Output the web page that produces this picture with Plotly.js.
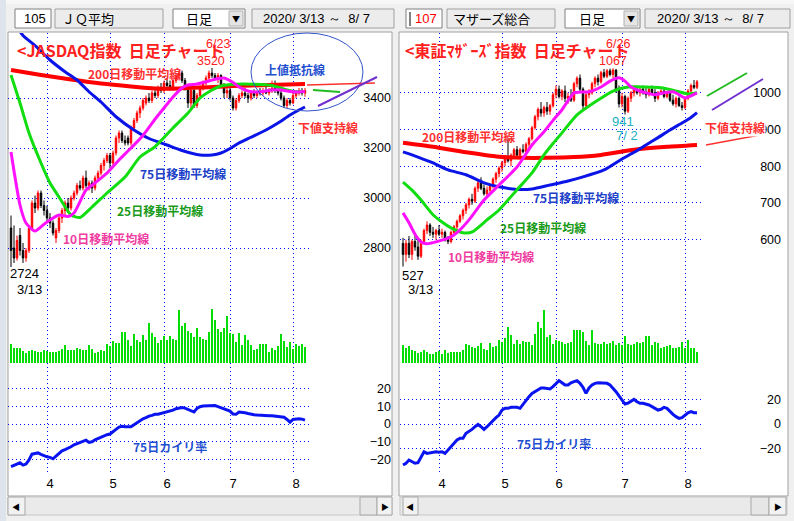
<!DOCTYPE html>
<html>
<head>
<meta charset="utf-8">
<script src="https://cdn.plot.ly/plotly-3.0.1.min.js"></script>
<style>
html, body { margin: 0; padding: 0; background: #f0f0f0; }
#chart { width: 794px; height: 521px; }
</style>
</head>
<body>
<div id="chart"></div>
<script>
// trading days 2020/3/13 - 8/7
var monthDays = [
  [3, [13,16,17,18,19,23,24,25,26,27,30,31]],
  [4, [1,2,3,6,7,8,9,10,13,14,15,16,17,20,21,22,23,24,27,28,30]],
  [5, [1,7,8,11,12,13,14,15,18,19,20,21,22,25,26,27,28,29]],
  [6, [1,2,3,4,5,8,9,10,11,12,15,16,17,18,19,22,23,24,25,26,29,30]],
  [7, [1,2,3,6,7,8,9,10,13,14,15,16,17,20,21,22,27,28,29,30,31]],
  [8, [3,4,5,6,7]]
];
var days = [];
monthDays.forEach(function (m) {
  m[1].forEach(function (d) { days.push(m[0] + '/' + d); });
});
var monthTicks = ['4/1', '5/1', '6/1', '7/1', '8/3'];
var monthText = ['4', '5', '6', '7', '8'];

// JASDAQ index
var jqOpen = [2880,2800,2760,2850,2790,2760,2790,2880,2980,2960, 3020,2970,2950,2920,2900,2840,2870,2920,2950,2980,
  2960,3000,3020,3050,3040,3080,3050,3060,3040,3080, 3100,3130,3150,3170,3140,3180,3240,3260,3230,3240,
  3220,3280,3310,3340,3360,3380,3400,3390,3420,3410, 3440,3430,3460,3450,3440,3470,3490,3500,3470,3440,
  3380,3430,3370,3410,3440,3460,3480,3500,3490,3480, 3490,3450,3420,3430,3400,3360,3390,3410,3420,3410,
  3400,3420,3410,3425,3420,3430,3420,3430,3440,3430, 3420,3400,3370,3390,3380,3410,3420,3430,3420];
var jqHigh = [2930,2890,2850,2880,2820,2800,2890,2990,3010,3030, 3030,2990,2970,2940,2910,2880,2930,2960,2990,3000,
  3010,3030,3060,3070,3090,3110,3070,3070,3090,3110, 3140,3160,3180,3180,3190,3250,3270,3270,3250,3250,
  3290,3320,3350,3370,3400,3410,3420,3430,3440,3450, 3460,3470,3480,3470,3480,3500,3510,3510,3480,3450,
  3440,3440,3420,3450,3470,3490,3510,3520,3500,3500, 3495,3460,3440,3440,3410,3400,3420,3430,3440,3420,
  3430,3435,3430,3440,3440,3445,3440,3470,3470,3450, 3430,3410,3400,3400,3420,3430,3440,3440,3440];
var jqLow = [2724,2740,2750,2770,2740,2745,2780,2870,2940,2950, 2960,2930,2900,2880,2850,2820,2860,2900,2930,2940,
  2950,2990,3010,3030,3030,3040,3030,3020,3030,3070, 3090,3110,3140,3120,3130,3170,3220,3220,3210,3210,
  3210,3270,3300,3320,3350,3370,3380,3380,3400,3400, 3420,3420,3440,3430,3430,3460,3470,3460,3430,3360,
  3350,3360,3360,3400,3430,3450,3470,3480,3470,3460, 3440,3400,3400,3390,3350,3350,3380,3400,3400,3380,
  3390,3400,3400,3410,3410,3415,3410,3420,3420,3410, 3390,3360,3360,3370,3375,3400,3410,3410,3405];
var jqClose = [2790,2760,2830,2790,2760,2790,2880,2980,2960,3020, 2970,2950,2920,2900,2860,2870,2920,2950,2980,2960,
  3000,3020,3050,3040,3080,3050,3060,3040,3080,3100, 3130,3150,3170,3140,3180,3240,3260,3230,3220,3220,
  3280,3310,3340,3360,3390,3400,3390,3420,3410,3440, 3430,3460,3450,3440,3470,3490,3500,3470,3440,3380,
  3430,3370,3410,3440,3460,3480,3500,3490,3480,3490, 3450,3420,3430,3400,3360,3390,3410,3420,3410,3400,
  3420,3410,3425,3420,3430,3420,3430,3440,3430,3420, 3400,3370,3390,3380,3410,3420,3430,3420,3430];
var jqVol = [19,15,15,15,12,10,12,13,12,11, 11,13,12,11,11,11,12,14,18,13, 13,13,15,14,13,13,18,14,10,11,
  13,12,19,17,22,20,20,31,31,23, 17,29,23,21,28,23,40,30,26,20, 23,27,23,27,24,23,53,37,40,32,
  30,26,35,26,24,23,31,54,43,34, 31,35,47,30,29,21,30,18,28,23, 18,13,14,19,19,19,11,15,13,17,
  29,22,16,21,14,19,17,19,16];
var jqDev = [-24.1,-23.3,-22.6,-21.9,-23.2,-22.6,-20.3,-17.0,-16.6,-16.3, -17.1,-17.9,-18.5,-18.8,-19.6,-18.1,-16.6,-15.1,-14.4,-13.7,
  -12.8,-11.7,-11.0,-10.6,-10.0,-9.1,-10.4,-10.0,-8.9,-8.1, -7.2,-6.4,-6.0,-5.6,-4.1,-3.0,-1.7,-1.3,-1.5,-1.5,
  -1.5,-0.4,0.8,1.9,3.0,3.6,4.5,4.9,5.5,5.6, 6.0,6.4,7.2,7.5,7.9,8.7,9.0,9.4,9.0,8.3,
  7.5,6.8,8.9,9.8,10.2,10.3,10.5,10.7,10.5,9.9, 9.2,8.3,7.9,7.3,5.6,5.5,6.8,6.8,6.4,6.0,
  5.5,5.3,5.1,4.9,4.7,4.7,4.7,4.7,4.5,4.7, 4.5,3.9,2.6,1.1,2.6,3.0,3.0,2.8,2.2];
var jqMa10Idx = [0,3,5,8,11,13,16,19,21,25,28,32,36,40,44,48,51,54,57,59,62,66,69,71,74,76,79,81,84,87,90,93,96,98];
var jqMa10 = [3184,2972,2900,2868,2895,2912,2932,2926,2940,3032,3060,3100,3152,3200,3250,3315,3360,3404,3440,3452,
  3456,3468,3478,3480,3462,3444,3428,3424,3426,3432,3432,3426,3424,3426];
var jqMa25Idx = [0,3,6,10,13,16,20,23,27,32,38,43,48,54,59,63,66,70,75,81,87,92,95,98];
var jqMa25 = [3492,3380,3260,3140,3060,3004,2932,2922,2964,3020,3084,3164,3205,3280,3340,3400,3425,3448,3455,3455,
  3450,3432,3425,3426];
var jqMa75Idx = [0,4,8,13,18,22,26,30,35,41,46,52,57,63,67,70,73,76,80,85,89,93,96,98];
var jqMa75 = [3720,3650,3610,3552,3505,3472,3425,3384,3325,3272,3238,3212,3190,3172,3172,3180,3198,3220,3243,3272,
  3300,3332,3352,3364];
var jqMa200Idx = [0,10,20,30,40,48,56,64,74,86,98];
var jqMa200 = [3512,3492,3474,3458,3446,3438,3438,3442,3448,3452,3456];

// Mothers index
var mzOpen = [590,560,590,560,595,580,555,595,625,640, 620,615,625,615,620,600,595,620,635,650,
  665,680,695,710,705,740,755,740,725,735, 745,765,780,795,810,825,815,830,845,830,
  845,840,860,875,905,935,955,945,960,950, 965,995,1010,990,1005,985,990,980,1025,1040,
  1010,965,995,1000,1025,1040,1030,1055,1045,1060, 1050,1062,1010,970,990,950,985,1000,1010,1000,
  1010,1000,995,1010,1000,985,1000,1005,990,1000, 980,970,985,965,960,985,1005,1020,1015];
var mzHigh = [605,600,610,600,615,600,600,630,650,645, 635,630,640,630,625,610,625,640,655,670,
  685,700,715,725,745,765,770,750,745,750, 770,785,800,815,830,875,835,850,855,850,
  860,865,880,910,940,960,975,965,975,970, 1000,1020,1020,1010,1020,1000,1010,1030,1045,1050,
  1015,1000,1010,1030,1045,1050,1060,1065,1065,1066, 1067,1065,1020,1000,995,990,1005,1020,1020,1015,
  1020,1015,1015,1020,1010,1005,1010,1010,1005,1005, 995,990,990,975,990,1010,1025,1035,1035];
var mzLow = [527,540,550,545,570,545,550,590,615,610, 605,600,610,605,595,588,590,615,625,645,
  655,670,685,695,700,730,735,720,715,725, 740,755,770,785,800,810,800,820,825,825,
  835,835,850,870,900,925,935,935,940,940, 960,985,985,980,975,970,975,975,1015,1005,
  955,955,985,995,1015,1020,1025,1040,1040,1045, 1040,1000,960,960,941,945,975,990,995,990,
  995,985,990,995,975,980,995,985,985,975, 965,960,962,952,955,980,1000,1010,1010];
var mzClose = [560,590,560,595,580,555,595,625,640,620, 615,625,615,620,600,595,620,635,650,665,
  680,695,710,705,740,755,740,725,735,745, 765,780,795,810,825,815,830,845,830,845,
  840,860,875,905,935,955,945,960,950,965, 995,1010,990,1005,985,990,980,1025,1040,1010,
  965,995,1000,1025,1040,1030,1055,1045,1060,1050, 1062,1010,970,990,950,985,1000,1010,1000,1010,
  1000,995,1010,1000,985,1000,1005,990,1000,980, 970,985,965,960,985,1005,1020,1015,1030];
var mzVol = [18,15,17,13,12,10,11,13,11,9, 9,11,12,9,13,10,11,11,11,11, 13,19,18,16,15,17,20,14,13,20,
  16,17,23,21,25,36,28,19,23,19, 22,21,21,18,29,41,35,53,26,28, 19,23,22,21,19,20,21,33,33,33,
  31,22,18,33,20,19,19,21,19,20, 22,18,20,18,27,19,18,19,21,20, 21,27,27,18,21,20,15,16,17,18,
  15,15,16,21,15,23,15,15,11];
var mzDev = [-33.5,-32.0,-29.4,-30.7,-32.0,-31.6,-26.7,-22.6,-24.0,-23.5, -23.5,-22.6,-23.0,-22.6,-24.0,-21.2,-18.5,-15.8,-13.0,-11.7,
  -11.7,-7.6,-6.3,-4.4,-2.2,-0.3,-2.2,-4.4,-2.2,0.5, 3.3,5.2,7.3,11.4,12.8,12.8,13.6,13.6,13.6,12.8,
  16.1,19.6,22.3,25.0,26.4,27.8,29.4,29.4,28.9,28.6, 30.5,33.2,35.4,33.7,31.8,31.9,33.7,34.6,35.4,33.2,
  29.9,25.0,29.4,31.8,33.2,33.7,33.7,33.7,33.2,31.8, 29.4,26.4,22.9,19.6,16.3,17.1,18.8,20.1,18.2,16.9,
  16.9,16.3,15.5,14.2,12.8,11.4,12.0,13.6,12.8,10.1, 7.9,6.0,4.6,5.2,7.3,9.2,10.1,9.2,9.2];
var mzMa10Idx = [0,2,4,6,8,11,16,19,22,27,32,38,43,47,50,53,57,59,62,66,69,72,74,76,79,81,84,87,90,92,94,96,98];
var mzMa10 = [673,646,615,594,589,594,608,627,654,708,749,798,858,894,925,954,1000,1002,1003,1016,1032,1041,
  1032,1016,1005,1000,995,1000,1003,995,986,992,1000];
var mzMa25Idx = [0,3,6,10,13,16,20,23,28,32,38,43,47,50,53,58,64,70,75,81,86,92,95,98];
var mzMa25 = [757,735,708,668,648,632,619,621,654,681,736,782,831,862,891,940,975,1005,1016,1016,1014,1003,997,1000];
var mzMa75Idx = [0,5,10,15,21,27,32,38,43,49,55,60,67,73,77,81,85,89,93,96,98];
var mzMa75 = [839,825,809,790,777,755,744,737,738,749,760,771,790,820,838,858,878,899,918,933,946];
var mzMa200Idx = [0,10,21,32,40,48,57,66,77,88,98];
var mzMa200 = [864,853,838,826,823,823,825,831,845,853,858];

var W = 794, H = 521;
function px(x) { return x / W; }
function py(y) { return 1 - y / H; }
function at(idx) { return idx.map(function (i) { return days[i]; }); }

var GRID = '#0000ff';
var RED = '#ff2020';
var JP = '"Noto Sans CJK JP", sans-serif';
var NUM = '"Liberation Sans", Arial, sans-serif';
var SP = '\u00a0\u00a0';

function candles(o, h, l, c, xa, ya) {
  return {
    type: 'candlestick', x: days, open: o, high: h, low: l, close: c,
    xaxis: xa, yaxis: ya, hoverinfo: 'skip', whiskerwidth: 0,
    increasing: { line: { color: '#ff0000', width: 1 }, fillcolor: '#ff0000' },
    decreasing: { line: { color: '#000000', width: 1 }, fillcolor: '#000000' }
  };
}
function maLine(idx, vals, color, width, xa, ya) {
  return {
    type: 'scatter', mode: 'lines', x: at(idx), y: vals, xaxis: xa, yaxis: ya,
    line: { color: color, width: width, shape: 'spline', smoothing: 0.6 }, hoverinfo: 'skip'
  };
}
function volBars(v, xa, ya) {
  return { type: 'bar', x: days, y: v, xaxis: xa, yaxis: ya, marker: { color: '#00dd00' }, hoverinfo: 'skip' };
}
function devLine(v, xa, ya) {
  return {
    type: 'scatter', mode: 'lines', x: days, y: v, xaxis: xa, yaxis: ya,
    line: { color: '#0a14f0', width: 3 }, hoverinfo: 'skip'
  };
}

var data = [
  maLine(jqMa200Idx, jqMa200, '#ff0000', 4, 'x', 'y'),
  maLine(jqMa75Idx, jqMa75, '#0a14e6', 3, 'x', 'y'),
  candles(jqOpen, jqHigh, jqLow, jqClose, 'x', 'y'),
  maLine(jqMa25Idx, jqMa25, '#11dd11', 3, 'x', 'y'),
  maLine(jqMa10Idx, jqMa10, '#ff11ff', 3, 'x', 'y'),
  volBars(jqVol, 'x', 'y2'),
  devLine(jqDev, 'x', 'y3'),
  maLine(mzMa200Idx, mzMa200, '#ff0000', 4, 'x2', 'y4'),
  maLine(mzMa75Idx, mzMa75, '#0a14e6', 3, 'x2', 'y4'),
  candles(mzOpen, mzHigh, mzLow, mzClose, 'x2', 'y4'),
  maLine(mzMa25Idx, mzMa25, '#11dd11', 3, 'x2', 'y4'),
  maLine(mzMa10Idx, mzMa10, '#ff11ff', 3, 'x2', 'y4'),
  volBars(mzVol, 'x2', 'y5'),
  devLine(mzDev, 'x2', 'y6')
];

function xAxis(x0, x1, anchor) {
  return {
    domain: [px(x0), px(x1)], type: 'category', categoryorder: 'array', categoryarray: days,
    range: [-1, 100], anchor: anchor, tickmode: 'array', tickvals: monthTicks, ticktext: monthText,
    showgrid: true, gridcolor: GRID, gridwidth: 1, griddash: '1px,3px', ticks: '', showline: false,
    zeroline: false, ticklabelshift: 3, tickfont: { family: NUM, size: 13, color: '#000' },
    rangeslider: { visible: false }, fixedrange: true
  };
}
function yAxis(top, bottom, range, tickvals, pos) {
  return {
    domain: [py(bottom), py(top)], range: range, tickmode: 'array', tickvals: tickvals,
    anchor: 'free', position: px(pos), side: 'left', showgrid: true, gridcolor: GRID, gridwidth: 1,
    griddash: '1px,3px', ticks: '', showline: false, zeroline: false,
    tickfont: { family: NUM, size: 12.5, color: '#000' }, fixedrange: true
  };
}
function volAxis(anchor) {
  return { domain: [py(363), py(290)], range: [0, 73], anchor: anchor, visible: false, fixedrange: true };
}

function rect(x0, y0, x1, y1, fill, line, layer) {
  return {
    type: 'rect', xref: 'paper', yref: 'paper', x0: px(x0), x1: px(x1), y0: py(y1), y1: py(y0),
    fillcolor: fill, line: { color: line || fill, width: line ? 1 : 0 }, layer: layer || 'below'
  };
}
function seg(x0, y0, x1, y1, color, width) {
  return {
    type: 'line', xref: 'paper', yref: 'paper', x0: px(x0), x1: px(x1), y0: py(y0), y1: py(y1),
    line: { color: color, width: width }, layer: 'above'
  };
}
function note(text, x, y, color, size, opts) {
  var a = {
    text: text, xref: 'paper', yref: 'paper', x: px(x), y: py(y), xanchor: 'left', yanchor: 'middle',
    showarrow: false, font: { family: JP, size: size, color: color }, borderpad: 0
  };
  for (var k in opts || {}) a[k] = opts[k];
  return a;
}
function num(text, x, y, color, opts, size) {
  var o = { font: { family: NUM, size: size || 13, color: color } };
  for (var k in opts || {}) o[k] = opts[k];
  return note(text, x, y, color, size || 13, o);
}

var shapes = [
  rect(0, 0, 794, 4, '#f7f7f7'),
  rect(0, 0, 6, 521, '#dde4ec'),
  rect(8, 32, 392, 496, '#ffffff', '#a0a0a0'),
  rect(399, 32, 788, 496, '#ffffff', '#a0a0a0'),
  // header boxes, left
  rect(15, 9, 51, 28, '#ffffff', '#808080', 'above'),
  rect(55, 9, 163, 28, '#ececec', '#a0a0a0', 'above'),
  rect(173, 9, 245, 28, '#ffffff', '#808080', 'above'),
  rect(229, 11, 243, 26, '#e4e4e4', '#b0b0b0', 'above'),
  rect(252, 9, 394, 28, '#ececec', '#a0a0a0', 'above'),
  // header boxes, right
  rect(406, 9, 442, 28, '#ffffff', '#808080', 'above'),
  rect(447, 9, 555, 28, '#ececec', '#a0a0a0', 'above'),
  rect(565, 9, 640, 28, '#ffffff', '#808080', 'above'),
  rect(624, 11, 638, 26, '#e4e4e4', '#b0b0b0', 'above'),
  rect(645, 9, 790, 28, '#ececec', '#a0a0a0', 'above'),
  seg(410, 12, 410, 26, '#000000', 1),
  // scrollbars
  rect(8, 497, 392, 515, '#eaeaea', '#c8c8c8', 'above'),
  rect(8, 497, 25, 515, '#f2f2f2', '#a8a8a8', 'above'),
  rect(360, 497, 377, 515, '#e6e6e6', '#a8a8a8', 'above'),
  rect(377, 497, 392, 515, '#f2f2f2', '#a8a8a8', 'above'),
  rect(400, 497, 787, 515, '#eaeaea', '#c8c8c8', 'above'),
  rect(403, 497, 418, 515, '#f2f2f2', '#a8a8a8', 'above'),
  rect(751, 497, 769, 515, '#e6e6e6', '#a8a8a8', 'above'),
  rect(769, 497, 786, 515, '#f2f2f2', '#a8a8a8', 'above'),
  // hand-drawn marks, left
  { type: 'circle', xref: 'paper', yref: 'paper', x0: px(251), x1: px(363), y0: py(111), y1: py(33),
    line: { color: '#3355cc', width: 1 }, layer: 'above' },
  seg(307, 85, 375, 83, '#ff3030', 1.5),
  seg(313, 90, 340, 92, '#22bb22', 2),
  seg(318, 106, 377, 77, '#7030d0', 2),
  // hand-drawn marks, right
  seg(707, 96, 747, 73, '#22bb22', 2),
  seg(712, 110, 763, 79, '#7030d0', 2),
  seg(706, 145, 765, 134, '#ff3030', 1.5)
];

var BLUE = '#2040c8';
var CYAN = '#20b0c0';
var annotations = [
  num('105', 47, 18.5, '#000', { xanchor: 'right' }),
  note('ＪＱ平均', 61, 18.5, '#000', 13),
  note('日足', 199, 18.5, '#000', 13, { xanchor: 'center' }),
  note('▼', 236, 18.5, '#000', 8, { xanchor: 'center' }),
  num('2020/ 3/13 ～' + SP + '8/ 7', 262, 18.5, '#000'),
  num('107', 438, 18.5, '#ff0000', { xanchor: 'right' }),
  note('マザーズ総合', 452, 18.5, '#000', 13),
  note('日足', 592, 18.5, '#000', 13, { xanchor: 'center' }),
  note('▼', 631, 18.5, '#000', 8, { xanchor: 'center' }),
  num('2020/ 3/13 ～' + SP + '8/ 7', 656, 18.5, '#000'),
  note('◀', 16, 506, '#000', 8, { xanchor: 'center' }),
  note('▶', 385, 506, '#000', 8, { xanchor: 'center' }),
  note('◀', 410, 506, '#000', 8, { xanchor: 'center' }),
  note('▶', 778, 506, '#000', 8, { xanchor: 'center' }),

  note('<b>&lt;JASDAQ指数' + SP + '日足チャート</b>', 16, 50, RED, 16),
  num('6/23', 218, 44, RED, { xanchor: 'center' }, 12.5),
  num('3520', 211, 61, RED, { xanchor: 'center' }, 12.5),
  note('<b>200日移動平均線</b>', 87, 73, '#ff3030', 12),
  note('<b>上値抵抗線</b>', 264, 70, '#1f4fd0', 12),
  note('<b>下値支持線</b>', 297, 128, '#ff3030', 12),
  note('<b>75日移動平均線</b>', 139, 174, BLUE, 12),
  note('<b>25日移動平均線</b>', 116, 210, '#1a9a1a', 12),
  note('<b>10日移動平均線</b>', 62, 238, '#f03ca0', 12),
  num('2724', 9, 273, '#000'),
  num('3/13', 16, 289, '#000'),
  note('<b>75日カイリ率</b>', 132, 446, '#1f4fd0', 12),

  note('<b>&lt;東証ﾏｻﾞｰｽﾞ指数' + SP + '日足チャート</b>', 404, 50, RED, 16),
  num('6/26', 618, 44, RED, { xanchor: 'center' }, 12.5),
  num('1067', 613, 61, RED, { xanchor: 'center' }, 12.5),
  note('<b>200日移動平均線</b>', 421, 137, '#ff3030', 12),
  note('<b>下値支持線</b>', 704, 127, '#ff3030', 12, { bgcolor: '#ffffff' }),
  num('941', 623, 121, CYAN, { xanchor: 'center' }),
  num('7/ 2', 627, 135, CYAN, { xanchor: 'center' }),
  note('<b>75日移動平均線</b>', 532, 197, BLUE, 12),
  note('<b>25日移動平均線</b>', 499, 228, '#1a9a1a', 12),
  note('<b>10日移動平均線</b>', 447, 257, '#f03ca0', 12),
  num('527', 401, 275, '#000'),
  num('3/13', 407, 289, '#000'),
  note('<b>75日カイリ率</b>', 516, 443, '#1f4fd0', 12)
];

var layout = {
  width: W, height: H,
  margin: { l: 0, r: 0, t: 0, b: 0, pad: 0 },
  paper_bgcolor: '#f0f0f0', plot_bgcolor: 'rgba(0,0,0,0)',
  showlegend: false, hovermode: false, bargap: 0.34,
  xaxis: xAxis(8, 311, 'y3'),
  xaxis2: xAxis(400, 703, 'y6'),
  yaxis: yAxis(33, 290, [2632, 3660], [2800, 3000, 3200, 3400], 391),
  yaxis2: volAxis('x'),
  yaxis3: yAxis(363, 474, [-28.2, 34.5], [-20, -10, 0, 10, 20], 391),
  yaxis4: yAxis(33, 290, [463, 1163], [600, 700, 800, 900, 1000], 781),
  yaxis5: volAxis('x2'),
  yaxis6: yAxis(363, 474, [-40.8, 49.8], [-20, 0, 20], 781),
  shapes: shapes,
  annotations: annotations
};

Plotly.newPlot('chart', data, layout, { displayModeBar: false, staticPlot: true });
</script>
</body>
</html>
